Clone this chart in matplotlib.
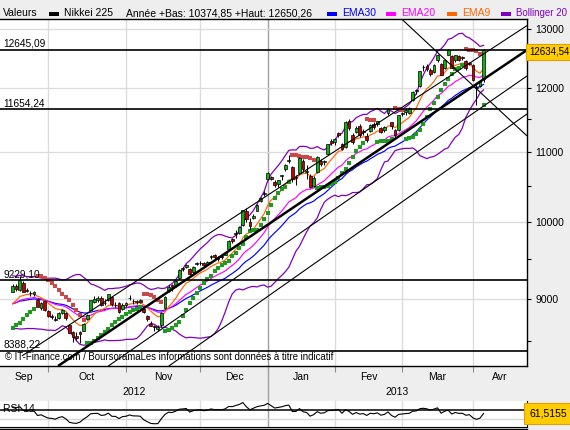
import numpy as np
import pandas as pd
import matplotlib
matplotlib.use("Agg")
import matplotlib.pyplot as plt
import matplotlib.transforms as mtransforms
from matplotlib.patches import Rectangle
from matplotlib.lines import Line2D
from matplotlib.ticker import FixedLocator, FixedFormatter, NullFormatter

plt.rcParams['font.family'] = ['Liberation Sans', 'DejaVu Sans']

# ---------------- data ----------------
start_date = '2012-09-14'
end_date = '2013-04-04'
holidays = ['2012-09-17', '2012-10-08', '2012-11-23', '2012-12-24', '2012-12-31',
            '2013-01-01', '2013-01-02', '2013-01-03', '2013-01-14', '2013-02-11', '2013-03-20']

opens = [9090, 9160, 9110, 9200, 9100, 9070, 9060, 8990, 8890, 8980,
         8850, 8790, 8760, 8770, 8830, 8830, 8680, 8600, 8560, 8600, 8620, 8760, 8870, 8960, 8990, 9010, 8950, 8990, 9020, 8920, 8950, 8880,
         8920, 9010, 8980, 8960, 8990, 8880, 8790, 8700, 8670, 8640, 8680, 8890, 9100, 9170, 9170, 9260, 9380, 9400, 9380, 9340, 9440,
         9450, 9450, 9440, 9530, 9560, 9510, 9540, 9560, 9640, 9760, 9850, 9850, 9950, 10150, 10000, 10050, 10150, 10290, 10380,
         10600, 10630, 10560, 10530, 10640, 10740, 10870, 10780, 10630, 10680, 10860, 10700, 10640, 10500, 10700, 10870, 10850, 10970, 11160,
         11150, 11290, 11120, 11080, 11480, 11250, 11300, 11400, 11320, 11240, 11310, 11430, 11420, 11360, 11340, 11600, 11450, 11330, 11330,
         11580, 11620, 11600, 11800, 11950, 12030, 12350, 12360, 12300, 12270, 12460, 12400, 12330, 12560, 12540, 12460, 12540, 12520, 12450, 12410,
         12380, 12010, 12040, 12150]
highs = [9180, 9180, 9288, 9220, 9140, 9100, 9100, 9010, 8960, 8990,
         8860, 8820, 8790, 8840, 8880, 8840, 8700, 8610, 8600, 8610, 8710, 8820, 8990, 9030, 9040, 9030, 9000, 9060, 9040, 8960, 8960, 8950,
         8960, 9050, 9000, 8990, 9000, 8900, 8800, 8730, 8690, 8680, 8840, 9030, 9170, 9190, 9230, 9380, 9400, 9440, 9390, 9410, 9470,
         9480, 9470, 9480, 9560, 9570, 9540, 9550, 9600, 9750, 9780, 9890, 9940, 10160, 10190, 10050, 10110, 10240, 10340, 10430,
         10700, 10650, 10590, 10590, 10660, 10820, 10950, 10790, 10660, 10920, 10890, 10800, 10670, 10640, 10930, 10900, 10880, 11120, 11190,
         11210, 11300, 11130, 11480, 11500, 11280, 11400, 11420, 11350, 11280, 11420, 11450, 11480, 11380, 11400, 11670, 11460, 11350, 11570,
         11620, 11680, 11690, 11950, 11990, 12290, 12380, 12400, 12330, 12400, 12570, 12410, 12470, 12650.26, 12560, 12560, 12560, 12540, 12460, 12440,
         12400, 12060, 12130, 12650]
lows = [9080, 9100, 9100, 9080, 9080, 9040, 9040, 8900, 8870, 8850,
        8780, 8760, 8730, 8760, 8820, 8750, 8590, 8490, 8510, 8470, 8610, 8750, 8860, 8950, 8960, 8910, 8930, 8980, 8910, 8900, 8830, 8870,
        8900, 8990, 8940, 8940, 8950, 8830, 8730, 8670, 8620, 8620, 8660, 8880, 9080, 9100, 9150, 9250, 9350, 9390, 9300, 9330, 9420,
        9430, 9420, 9420, 9500, 9500, 9480, 9510, 9550, 9630, 9720, 9780, 9830, 9940, 10000, 9890, 10030, 10140, 10270, 10350,
        10580, 10580, 10480, 10490, 10590, 10720, 10830, 10560, 10510, 10670, 10700, 10600, 10470, 10480, 10690, 10790, 10800, 10960, 11100,
        11110, 11230, 11020, 11060, 11330, 11120, 11290, 11230, 11250, 11150, 11300, 11350, 11400, 11290, 11300, 11570, 11350, 11200, 11320,
        11550, 11560, 11590, 11790, 11900, 12020, 12290, 12280, 12200, 12250, 12440, 12210, 12320, 12550, 12330, 12440, 12450, 12470, 12300, 12380,
        12120, 11720, 12020, 12100]
closes = [9159, 9124, 9232, 9087, 9110, 9069, 9091, 8907, 8950, 8870,
          8797, 8786, 8746, 8825, 8863, 8770, 8596, 8547, 8534, 8578, 8701, 8807, 8983, 9003, 9011, 8931, 8954, 9055, 8933, 8929, 8842, 8928,
          8947, 9007, 8975, 8973, 8964, 8837, 8758, 8676, 8661, 8665, 8830, 9024, 9153, 9143, 9223, 9367, 9389, 9423, 9308, 9401, 9446,
          9458, 9432, 9469, 9545, 9527, 9534, 9525, 9581, 9743, 9738, 9829, 9923, 10160, 10039, 9940, 10080, 10230, 10323, 10395,
          10688, 10599, 10508, 10579, 10653, 10802, 10879, 10600, 10610, 10913, 10748, 10710, 10487, 10620, 10927, 10824, 10867, 11114, 11139,
          11191, 11260, 11047, 11464, 11357, 11153, 11369, 11251, 11307, 11174, 11408, 11372, 11468, 11309, 11386, 11663, 11399, 11254, 11559,
          11606, 11652, 11683, 11932, 11968, 12284, 12349, 12315, 12240, 12381, 12561, 12221, 12468, 12636, 12339, 12546, 12472, 12494, 12336, 12398,
          12135, 12003, 12110, 12634.54]
# closes before the first drawn candle (indicator warm-up)
prior_closes = [8929, 9092, 9163, 9172, 9157, 9132, 9178, 9070, 9085, 9033, 9068,
                8984, 8840, 8783, 8775, 8679, 8680, 8872, 8869, 8807, 8959, 8995]

level_values = [12645.09, 11654.24, 9229.10, 8388.22]
price_ticks = [9000, 10000, 11000, 12000, 13000]
minor_price_ticks = [8500, 9500, 10500, 11500, 12500]
month_names = {9: 'Sep', 10: 'Oct', 11: 'Nov', 12: 'Dec', 1: 'Jan', 2: 'Fev', 3: 'Mar', 4: 'Avr'}
# trend lines: (day index 0, price 0, day index 1, price 1, thick?)
trend_lines = [(12.8, 8213, 145.3, 12640, True),
               (2.6, 8327, 145.3, 13068, False),
               (27.0, 8213, 145.3, 12200, False),
               (44.1, 8213, 145.3, 11584, False),
               (109.4, 13212, 145.3, 11240, False)]
sar_start, sar_af_start = 8650, 0.06
year_low, year_high = '10374,85', '12650,26'
rsi_value = 61.5155

# ---------------- indicators ----------------
dates = pd.bdate_range(start_date, end_date, freq='C', holidays=holidays)
n = len(closes)
x = np.arange(n)
allc = pd.Series(prior_closes + closes, dtype=float)
ema = {k: allc.ewm(span=k, adjust=False).mean().values[-n:] for k in (9, 20, 30)}
mid = allc.rolling(20).mean()
sd = allc.rolling(20).std(ddof=0)
bb_up = (mid + 2 * sd).values[-n:]
bb_lo = (mid - 2 * sd).values[-n:]

delta = allc.diff()
gain = delta.clip(lower=0)
loss = (-delta).clip(lower=0)
ag = gain.iloc[1:].ewm(alpha=1 / 14, adjust=False).mean()
al = loss.iloc[1:].ewm(alpha=1 / 14, adjust=False).mean()
rsi = (100 - 100 / (1 + ag / al)).values[-n:]

hi = np.array(highs, float)
lo = np.array(lows, float)
sar = np.zeros(n)
trend_up = np.zeros(n, bool)
up, s, ep, af = True, float(sar_start), hi[0], sar_af_start
for t in range(n):
    if t > 0:
        s = s + af * (ep - s)
        if up:
            s = min(s, lo[t - 1], lo[max(t - 2, 0)])
            if lo[t] < s:
                up, s, ep, af = False, ep, lo[t], 0.02
            elif hi[t] > ep:
                ep, af = hi[t], min(af + 0.02, 0.2)
        else:
            s = max(s, hi[t - 1], hi[max(t - 2, 0)])
            if hi[t] > s:
                up, s, ep, af = True, ep, hi[t], 0.02
            elif lo[t] < ep:
                ep, af = lo[t], min(af + 0.02, 0.2)
    sar[t] = s
    trend_up[t] = up

months = np.array([d.month for d in dates])
month_starts = [i for i in range(1, n) if months[i] != months[i - 1]]
jan_idx = [i for i in month_starts if months[i] == 1][0]

# ---------------- figure ----------------
W, H = 570, 430
BG = '#EEEEEE'
fig = plt.figure(figsize=(W / 100, H / 100), dpi=100, facecolor=BG)


def fy(py):
    return 1 - py / H


XL = (-3.6, 145.27)
ax = fig.add_axes([0, fy(366), 527 / W, (366 - 18.5) / H])
ax.set_facecolor('white')
ax.set_yscale('log')
ax.set_xlim(*XL)
ax.set_ylim(8213, 13194)

for m in month_starts:
    ax.axvline(m, color='#A0A0A0' if m == jan_idx else '#DCDCDC', lw=1, zorder=0)
for t in price_ticks:
    ax.axhline(t, color='#DCDCDC', lw=1, zorder=0)

ax.plot(x, bb_up, color='#8000C0', lw=0.9, zorder=2)
ax.plot(x, bb_lo, color='#8000C0', lw=0.9, zorder=2)
ax.plot(x, ema[30], color='#0000FF', lw=0.85, zorder=2)
ax.plot(x, ema[20], color='#FF00FF', lw=0.85, zorder=2)
ax.plot(x, ema[9], color='#FF6600', lw=0.85, zorder=2)

ax.scatter(x[trend_up], sar[trend_up], marker='s', s=4.8, color='#1E9A1E', lw=0, zorder=3)
ax.scatter(x[~trend_up], sar[~trend_up], marker='s', s=4.8, color='#CC4848', lw=0, zorder=3)

o = np.array(opens, float)
c = np.array(closes, float)
ax.vlines(x, lo, hi, color='black', lw=0.7, zorder=4)
body_col = np.where(c >= o, '#10B010', '#C80000')
ax.bar(x, np.abs(c - o), bottom=np.minimum(o, c), width=0.8, color=body_col,
       edgecolor='black', linewidth=0.5, zorder=5)

for (i0, p0, i1, p1, thick) in trend_lines:
    ax.plot([i0, i1], [p0, p1], color='black', lw=1.8 if thick else 0.8, zorder=6,
            solid_capstyle='butt')

blend = mtransforms.blended_transform_factory(ax.transAxes, ax.transData)
for v in level_values:
    ax.axhline(v, color='black', lw=1.2, zorder=6)
    ax.text(0.006, v * 1.002, f'{v:.2f}'.replace('.', ','), transform=blend,
            ha='left', va='bottom', fontsize=7.3, zorder=7)

ax.yaxis.tick_right()
ax.yaxis.set_major_locator(FixedLocator(price_ticks))
ax.yaxis.set_major_formatter(FixedFormatter([str(t) for t in price_ticks]))
ax.yaxis.set_minor_locator(FixedLocator(minor_price_ticks))
ax.yaxis.set_minor_formatter(NullFormatter())
ax.tick_params(axis='y', which='both', direction='out', length=3, width=0.8,
               labelsize=7.5, pad=3)
ax.set_xticks(month_starts)
ax.set_xticklabels([])
ax.tick_params(axis='x', direction='out', length=4, color='#909090', width=0.8)
ax.spines['left'].set_visible(False)
for sp in ('top', 'right', 'bottom'):
    ax.spines[sp].set_color('black')
    ax.spines[sp].set_linewidth(1.0)

ax.annotate(f'{c[-1]:.2f}'.replace('.', ','), xy=(1.0, c[-1]), xycoords=blend,
            xytext=(2, -1.5), textcoords='offset pixels', ha='left', va='center',
            fontsize=7.0, zorder=8, annotation_clip=False,
            bbox=dict(boxstyle='square,pad=0.3', fc='#FFCC00', ec='#E0A000', lw=0.8))

fig.text(5 / W, fy(357), '\u00a9 IT-Finance.com / BoursoramaLes informations sont données à titre indicatif',
         fontsize=6.9, va='center', ha='left')

# month and year labels
bounds = [XL[0]] + month_starts + [XL[1]]
mlabs = [months[0]] + [months[i] for i in month_starts]
for k, m in enumerate(mlabs):
    xm = (bounds[k] + bounds[k + 1]) / 2
    ax.annotate(month_names[m], xy=(xm, 0), xycoords=('data', 'axes fraction'),
                xytext=(0, -11 * 0.72), textcoords='offset points', ha='center', va='center',
                fontsize=7.5, annotation_clip=False)
for yr, (a, b) in (('2012', (XL[0], jan_idx)), ('2013', (jan_idx, XL[1]))):
    ax.annotate(yr, xy=((a + b) / 2, 0), xycoords=('data', 'axes fraction'),
                xytext=(0, -26 * 0.72), textcoords='offset points', ha='center', va='center',
                fontsize=7.5, annotation_clip=False)
bx = mtransforms.blended_transform_factory(ax.transData, ax.transAxes)
ax.plot([jan_idx, jan_idx], [0, -34 / 347.5], transform=bx, color='#A0A0A0', lw=1, clip_on=False)

# legend strip
ly = fy(13)
fig.text(3 / W, ly, 'Valeurs', fontsize=7.5, va='center')
items = [(49, '#000000', 'Nikkei 225', 'black', 7.5),
         (327, '#0000FF', 'EMA30', '#0000FF', 7.5),
         (386, '#FF00FF', 'EMA20', '#FF00FF', 7.5),
         (447, '#FF6600', 'EMA9', '#FF6600', 7.5),
         (501, '#8000C0', 'Bollinger 20', '#8000C0', 7.0)]
for px, col, lab, tcol, fs in items:
    fig.patches.append(Rectangle((px / W, fy(15.5)), 10 / W, 3 / H, transform=fig.transFigure,
                                 facecolor=col, edgecolor='none'))
    fig.text((px + 15) / W, ly, lab, fontsize=fs, va='center', color=tcol)
fig.text(126 / W, ly, f'Année +Bas: {year_low} +Haut: {year_high}', fontsize=7.5, va='center')

# RSI panel
rx = fig.add_axes([0, fy(426.5), 527 / W, (426.5 - 400.5) / H])
rx.set_facecolor('white')
rx.set_xlim(*XL)
rx.set_ylim(32.6, 89.8)
for m in month_starts:
    rx.axvline(m, color='#A0A0A0' if m == jan_idx else '#DCDCDC', lw=1, zorder=0)
rx.axhline(50, color='#D8D8D8', lw=1, zorder=1)
rx.axhline(70, color='black', lw=1.1, zorder=1)
rx.plot(x, rsi, color='black', lw=0.8, zorder=3)
rblend = mtransforms.blended_transform_factory(rx.transAxes, rx.transData)
rx.text(0.006, 70, 'RSI 14', transform=rblend, fontsize=7.5, va='center', ha='left', zorder=2)
rx.set_xticks([])
rx.yaxis.tick_right()
rx.set_yticks([50, 70])
rx.set_yticklabels([])
rx.tick_params(axis='y', direction='out', length=3, width=0.8)
rx.spines['left'].set_visible(False)
rx.spines['top'].set_visible(False)
rx.spines['right'].set_color('black')
rx.spines['bottom'].set_color('black')
fig.add_artist(Line2D([0, 527 / W], [fy(428.8)] * 2, color='black', lw=1.0))
rx.annotate(f'{rsi_value:.4f}'.replace('.', ','), xy=(1.0, rsi_value), xycoords=rblend,
            xytext=(3, 0), textcoords='offset pixels', ha='left', va='center',
            fontsize=7.5, annotation_clip=False,
            bbox=dict(boxstyle='square,pad=0.55', fc='#FFCC00', ec='#E0A000', lw=0.8))

fig.savefig('out.png', dpi=100, facecolor=BG)
